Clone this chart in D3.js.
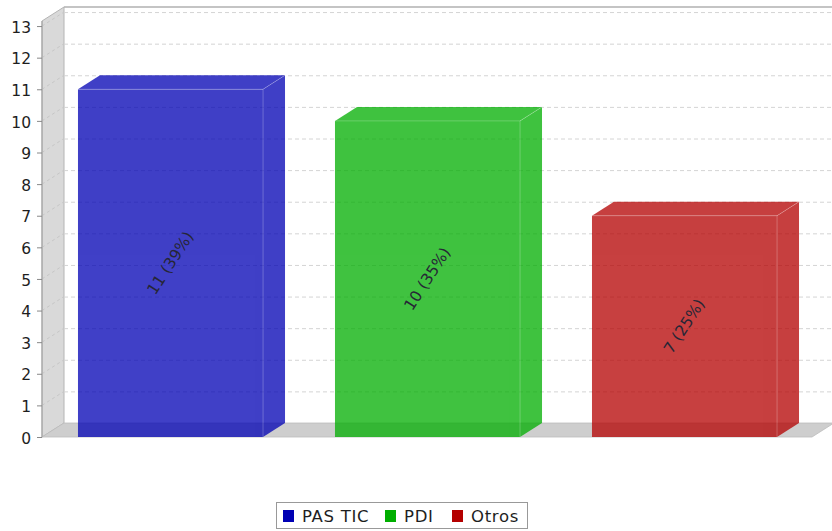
<!DOCTYPE html>
<html>
<head>
<meta charset="utf-8">
<script src="https://cdn.jsdelivr.net/npm/d3@7"></script>
<style>
  html, body { margin: 0; padding: 0; background: #fff; }
  svg { display: block; font-family: "DejaVu Sans", sans-serif; }
</style>
</head>
<body>
<svg id="chart" width="832" height="531"></svg>
<script>
const categories = ["PAS TIC", "PDI", "Otros"];
const values = [11, 10, 7];
const percents = [39, 35, 25];
const colors = ["#0000b4", "#00ae00", "#b40000"];
const yTicks = [0, 1, 2, 3, 4, 5, 6, 7, 8, 9, 10, 11, 12, 13];

const svg = d3.select("#chart");
const W = 832;
const dx = 22, dy = 14;          // 3D depth offset
const front = { left: 42, right: 810, bottom: 437, top: 21 };

const x = d3.scaleBand().domain(categories)
  .range([front.left, front.right + 3])
  .paddingInner(0.28).paddingOuter(0.14);
const y = d3.scaleLinear().domain([0, 13.16]).range([front.bottom, front.top]);

// back wall
svg.append("rect")
  .attr("x", front.left + dx).attr("y", front.top - dy)
  .attr("width", W - (front.left + dx) + 2).attr("height", front.bottom - front.top)
  .attr("fill", "#fff");

// left wall
svg.append("polygon")
  .attr("points", [[front.left, front.bottom], [front.left, front.top], [front.left + dx, front.top - dy], [front.left + dx, front.bottom - dy]].join(" "))
  .attr("fill", "#d9d9d9").attr("stroke", "#b4b4b4").attr("stroke-width", 1);

// floor
svg.append("polygon")
  .attr("points", [[front.left, front.bottom], [front.left + dx, front.bottom - dy], [W + 2, front.bottom - dy], [front.right + 2, front.bottom]].join(" "))
  .attr("fill", "#cecece").attr("stroke", "#bdbdbd").attr("stroke-width", 0.8);

// top border of back wall
svg.append("line")
  .attr("x1", front.left + dx).attr("x2", W)
  .attr("y1", front.top - dy).attr("y2", front.top - dy)
  .attr("stroke", "#b0b0b0").attr("stroke-width", 1.5);

// gridlines on back wall and left wall
const grid = svg.append("g");
yTicks.filter(v => v > 0).forEach(v => {
  grid.append("line")
    .attr("x1", front.left + dx).attr("x2", W)
    .attr("y1", y(v) - dy + 0.5).attr("y2", y(v) - dy + 0.5)
    .attr("stroke", "#d4d4d4").attr("stroke-width", 1).attr("stroke-dasharray", "4,3");
  grid.append("line")
    .attr("x1", front.left).attr("x2", front.left + dx)
    .attr("y1", y(v)).attr("y2", y(v) - dy)
    .attr("stroke", "#c6c6c6").attr("stroke-width", 1).attr("stroke-dasharray", "3,3");
});

// bars
const bars = svg.append("g");
categories.forEach((c, i) => {
  const x0 = x(c), x1 = x(c) + x.bandwidth();
  const yv = y(values[i]), yb = y(0);
  const g = bars.append("g").attr("opacity", 0.75);
  g.append("rect").attr("x", x0).attr("y", yv).attr("width", x1 - x0).attr("height", yb - yv)
    .attr("fill", colors[i]);
  g.append("polygon")
    .attr("points", [[x0, yv], [x0 + dx, yv - dy], [x1 + dx, yv - dy], [x1, yv]].join(" "))
    .attr("fill", colors[i]);
  g.append("polygon")
    .attr("points", [[x1, yv], [x1 + dx, yv - dy], [x1 + dx, yb - dy], [x1, yb]].join(" "))
    .attr("fill", colors[i]);
  // light edges
  bars.append("polyline")
    .attr("points", [[x0, yv], [x1, yv], [x1, yb]].join(" "))
    .attr("fill", "none").attr("stroke", "rgba(255,255,255,0.22)").attr("stroke-width", 1);
  bars.append("line")
    .attr("x1", x1).attr("y1", yv).attr("x2", x1 + dx).attr("y2", yv - dy)
    .attr("stroke", "rgba(255,255,255,0.22)").attr("stroke-width", 1);
});

// bar labels
categories.forEach((c, i) => {
  const cx = x(c) + x.bandwidth() / 2;
  const cy = (y(values[i]) + y(0)) / 2;
  svg.append("text")
    .attr("transform", `translate(${cx},${cy}) rotate(-57)`)
    .attr("text-anchor", "middle").attr("dominant-baseline", "central")
    .attr("font-size", 15.5).attr("fill", "#262636")
    .text(`${values[i]} (${percents[i]}%)`);
});

// y axis
const axis = svg.append("g").attr("transform", `translate(${front.left},0)`)
  .call(d3.axisLeft(y).tickValues(yTicks).tickFormat(d3.format("d")).tickSize(5).tickPadding(6));
axis.select(".domain").attr("stroke", "#a0a0a0").attr("d", `M0,${front.top}V${front.bottom}`);
axis.selectAll(".tick line").attr("stroke", "#888");
axis.selectAll(".tick text").attr("font-size", 15.5).attr("fill", "#1e1e1e")
  .attr("font-family", "DejaVu Sans, sans-serif").attr("dy", "0.4em");

// legend
const legend = svg.append("g");
legend.append("rect").attr("x", 276.5).attr("y", 502.5).attr("width", 251).attr("height", 26)
  .attr("fill", "#fff").attr("stroke", "#999").attr("stroke-width", 1);
const legendX = [283, 385, 452];
categories.forEach((c, i) => {
  legend.append("rect").attr("x", legendX[i]).attr("y", 510).attr("width", 11).attr("height", 12)
    .attr("fill", colors[i]);
  legend.append("text").attr("x", legendX[i] + 19).attr("y", 522)
    .attr("font-size", 16.5).attr("fill", "#1e1e1e").attr("letter-spacing", "0.7")
    .text(c);
});
</script>
</body>
</html>
